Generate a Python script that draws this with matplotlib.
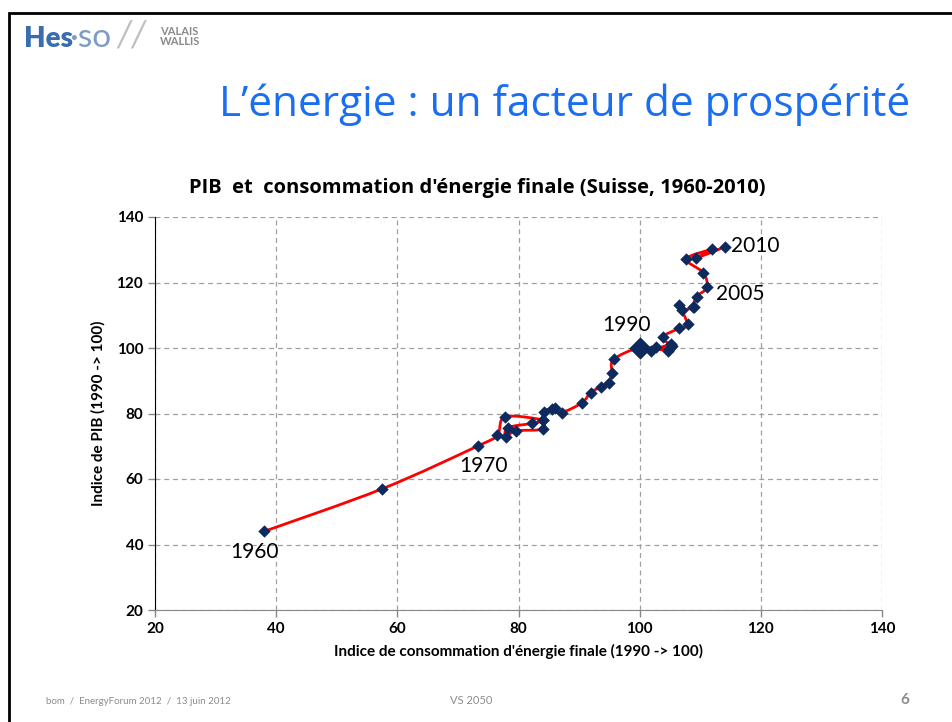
import numpy as np
import matplotlib
matplotlib.use("Agg")
import matplotlib.pyplot as plt
from matplotlib.path import Path
from matplotlib.patches import PathPatch, Rectangle

# Indice de consommation d'energie finale / indice de PIB (1990 -> 100)
years = [1960, 1965] + list(range(1970, 2011))
energie = [38.0, 57.5,
           73.3, 76.5, 77.8, 84.1, 82.3, 78.3, 77.9, 79.6, 84.0, 84.1,
           84.2, 86.0, 85.5, 87.1, 90.5, 91.9, 93.7, 94.9, 95.4, 95.7,
           100.0, 104.7, 102.7, 101.9, 105.1, 104.9, 105.3, 103.8, 106.5, 107.9,
           106.5, 107.0, 109.0, 108.8, 109.4, 111.1, 110.5, 107.7, 112.0, 109.3,
           114.1]
pib = [44.0, 57.0,
       70.1, 73.4, 79.0, 78.0, 77.0, 75.7, 72.9, 74.7, 75.2, 78.0,
       80.6, 81.8, 81.3, 80.3, 83.3, 86.4, 88.2, 89.4, 92.5, 96.5,
       100.0, 99.2, 100.4, 99.2, 101.1, 99.6, 100.6, 103.3, 106.0, 107.2,
       113.1, 111.6, 112.4, 112.6, 115.7, 118.5, 123.0, 127.2, 130.1, 127.4,
       130.9]
labels = {1960: (-1.5, -6.3), 1970: (1.0, -6.1), 1990: (-2.1, 7.0), 2005: (5.5, -2.0), 2010: (4.9, 0.2)}

W, H = 953, 722
fig = plt.figure(figsize=(W / 100, H / 100), dpi=100)
plt.rcParams['font.family'] = ['Lato', 'DejaVu Sans']


def px(x, y):
    return x / W, 1 - y / H


# slide frame
fig.patches.append(Rectangle(px(9, 740), (W + 20) / W, (740 - 13) / H, transform=fig.transFigure,
                             fill=False, edgecolor='black', linewidth=2))

# logo
fig.text(*px(24, 47), 'Hes', color='#3a6cb0', fontsize=20, fontweight='heavy', va='baseline')
fig.text(*px(69, 47), '·so', color='#7c9cc4', fontsize=24, va='baseline')
fig.text(*px(116, 47), '//', color='#c0c0c0', fontsize=26, fontstyle='italic', va='baseline')
fig.text(*px(160, 35), 'VALAIS', color='#8a8a8a', fontsize=8, fontweight='bold', va='baseline')
fig.text(*px(160, 45), 'WALLIS', color='#8a8a8a', fontsize=8, fontweight='bold', va='baseline')

fig.text(*px(910, 116), "L\u2019énergie : un facteur de prospérité", color='#1a6ef0',
         fontsize=30.5, ha='right', va='baseline', family=['Open Sans', 'DejaVu Sans'])

fig.text(*px(477, 188), "PIB  et  consommation d'énergie finale (Suisse, 1960-2010)",
         fontsize=14.5, fontweight='bold', ha='center', va='center',
         family=['Open Sans', 'DejaVu Sans'])

# footer
fig.text(*px(46, 704), 'bom  /  EnergyForum 2012  /  13 juin 2012', color='#8c8c8c',
         fontsize=7, va='baseline')
fig.text(*px(450, 704), 'VS 2050', color='#8c8c8c', fontsize=8, va='baseline')
fig.text(*px(909, 704), '6', color='#8c8c8c', fontsize=11, fontweight='bold',
         ha='right', va='baseline')

ax = fig.add_axes([155 / W, 1 - 610 / H, (882 - 155) / W, (610 - 217) / H])
ax.set_xlim(20, 140)
ax.set_ylim(20, 140)
ax.set_xticks(range(20, 141, 20))
ax.set_yticks(range(20, 141, 20))
ax.grid(True, color='#a0a0a0', linestyle=(0, (4, 3)), linewidth=0.9)
ax.set_axisbelow(True)
for s in ['top', 'right']:
    ax.spines[s].set_visible(False)
ax.spines['left'].set_color('black')
ax.spines['bottom'].set_color('#888888')
ax.tick_params(colors='#888888', length=5, width=1, labelcolor='black', labelsize=11)
for lab in ax.get_xticklabels() + ax.get_yticklabels():
    lab.set_fontweight('bold')

ax.set_xlabel("Indice de consommation d'énergie finale (1990 -> 100)", fontsize=11,
              fontweight='bold', labelpad=6)
ax.set_ylabel('Indice de PIB (1990 -> 100)', fontsize=11, fontweight='bold', labelpad=8)

# smoothed line (Excel style Bezier)
pts = np.column_stack([energie, pib])
n = len(pts)
verts = [pts[0]]
codes = [Path.MOVETO]
for i in range(n - 1):
    p0 = pts[max(i - 1, 0)]
    p1 = pts[i]
    p2 = pts[i + 1]
    p3 = pts[min(i + 2, n - 1)]
    verts += [p1 + (p2 - p0) / 6, p2 - (p3 - p1) / 6, p2]
    codes += [Path.CURVE4] * 3
ax.add_patch(PathPatch(Path(verts, codes), facecolor='none', edgecolor='#ff0000',
                       linewidth=2, zorder=3))

ax.scatter(energie, pib, marker='D', s=40, color='#0d2a5e', zorder=4, linewidths=0)
i90 = years.index(1990)
ax.scatter([energie[i90]], [pib[i90]], marker='D', s=130, color='#0d2a5e', zorder=5, linewidths=0)

for yr, (dx, dy) in labels.items():
    i = years.index(yr)
    ax.text(energie[i] + dx, pib[i] + dy, str(yr), fontsize=15, ha='center', va='center')

fig.savefig('out.png', dpi=100)
